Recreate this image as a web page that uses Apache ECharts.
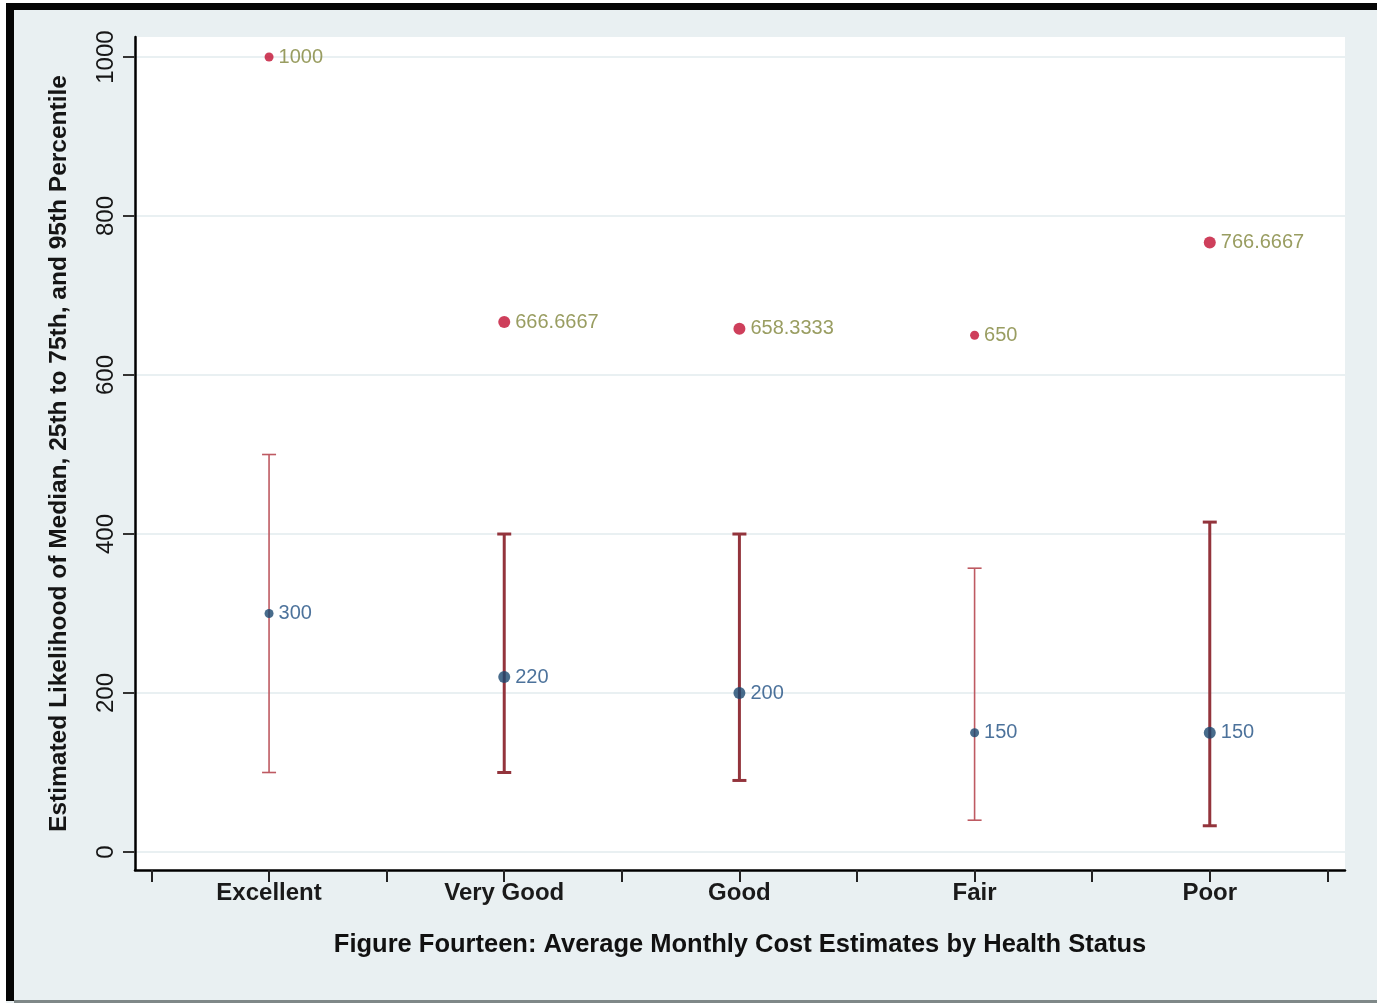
<!DOCTYPE html>
<html>
<head>
<meta charset="utf-8">
<title>Average Monthly Cost Estimates by Health Status</title>
<script src="https://cdn.jsdelivr.net/npm/echarts@6/dist/echarts.min.js"></script>
<style>
  html, body { margin: 0; padding: 0; background: #ffffff; }
  #chart { width: 1377px; height: 1003px; }
</style>
</head>
<body>
<div id="chart"></div>
<script>
// Health status groups along the horizontal axis
const categories = ['Excellent', 'Very Good', 'Good', 'Fair', 'Poor'];
// 25th and 75th percentile of the monthly cost estimate
const p25 = [100, 100, 90, 40, 33];
const p75 = [500, 400, 400, 357, 415];
// Median estimate
const medians = [300, 220, 200, 150, 150];
// 95th percentile estimate
const p95 = [1000, 666.6667, 658.3333, 650, 766.6667];
// Value axis tick labels
const yTicks = [0, 200, 400, 600, 800, 1000];

// Styling: which range bars are drawn heavy
const heavyBar = [false, true, true, false, true];

const FONT = '"Liberation Sans", Arial, Helvetica, sans-serif';
const NAVY = '#1a476f';
const MAROON = '#93343c';
const CRANBERRY = '#c20f32';

// x positions: groups sit at 1..n, ticks also between groups
const xPos = categories.map((c, i) => i + 1);
const xTicks = [];
categories.forEach((c, i) => { xTicks.push(i + 0.5, i + 1); });
xTicks.push(categories.length + 0.5);

const rangeData = categories.map((c, i) => [xPos[i], p25[i], p75[i]]);
const medianData = categories.map((c, i) => [xPos[i], medians[i]]);
const p95Data = categories.map((c, i) => [xPos[i], p95[i]]);

const chart = echarts.init(document.getElementById('chart'), null, { renderer: 'canvas' });

chart.setOption({
  animation: false,
  backgroundColor: '#e9f0f2',
  graphic: [
    { type: 'rect', silent: true, z: 100, shape: { x: 0, y: 0, width: 1377, height: 3 }, style: { fill: '#ffffff' } },
    { type: 'rect', silent: true, z: 100, shape: { x: 0, y: 0, width: 6, height: 1003 }, style: { fill: '#ffffff' } },
    { type: 'rect', silent: true, z: 100, shape: { x: 6, y: 3, width: 1371, height: 7 }, style: { fill: '#050505' } },
    { type: 'rect', silent: true, z: 100, shape: { x: 6, y: 3, width: 8, height: 998 }, style: { fill: '#050505' } },
    { type: 'rect', silent: true, z: 100, shape: { x: 14, y: 1000, width: 1363, height: 3 }, style: { fill: '#7f8888' } }
  ],
  grid: {
    left: 135, right: 32, top: 37, bottom: 133,
    show: true, backgroundColor: '#ffffff', borderWidth: 0
  },
  xAxis: {
    type: 'value',
    min: 0.43,
    max: 5.575,
    name: 'Figure Fourteen: Average Monthly Cost Estimates by Health Status',
    nameLocation: 'middle',
    nameGap: 62,
    nameTextStyle: { fontFamily: FONT, fontSize: 25.5, fontWeight: 'bold', color: '#111111' },
    axisLine: { show: true, onZero: false, lineStyle: { color: '#000000', width: 2.5 } },
    axisTick: { show: true, customValues: xTicks, length: 12, lineStyle: { color: '#222222', width: 2 } },
    axisLabel: {
      customValues: xPos,
      formatter: v => categories[Math.round(v) - 1] || '',
      margin: 11,
      fontFamily: FONT, fontSize: 24, fontWeight: 'bold', color: '#1a1a1a'
    },
    splitLine: { show: false }
  },
  yAxis: {
    type: 'value',
    min: -22.64,
    max: 1025.2,
    name: 'Estimated Likelihood of Median, 25th to 75th, and 95th Percentile',
    nameLocation: 'middle',
    nameRotate: 90,
    nameGap: 63,
    nameTextStyle: { fontFamily: FONT, fontSize: 24.5, fontWeight: 'bold', color: '#151515' },
    axisLine: { show: true, onZero: false, lineStyle: { color: '#000000', width: 2.5 } },
    axisTick: { show: true, customValues: yTicks, length: 12, lineStyle: { color: '#333333', width: 2 } },
    axisLabel: {
      customValues: yTicks,
      formatter: v => String(v),
      rotate: 90,
      margin: 17,
      fontFamily: FONT, fontSize: 24, color: '#161616'
    },
    splitLine: { show: true, lineStyle: { color: '#e2ebee', width: 1.5 } }
  },
  series: [
    {
      type: 'custom',
      name: '25th to 75th',
      data: rangeData,
      z: 2,
      renderItem: (params, api) => {
        const x = api.value(0);
        const lo = api.coord([x, api.value(1)]);
        const hi = api.coord([x, api.value(2)]);
        const heavy = heavyBar[params.dataIndex];
        const style = { stroke: heavy ? MAROON : '#be5a62', lineWidth: heavy ? 3 : 1.6, fill: null };
        const cw = 7;
        return {
          type: 'group',
          children: [
            { type: 'line', shape: { x1: lo[0], y1: lo[1], x2: hi[0], y2: hi[1] }, style },
            { type: 'line', shape: { x1: lo[0] - cw, y1: lo[1], x2: lo[0] + cw, y2: lo[1] }, style },
            { type: 'line', shape: { x1: hi[0] - cw, y1: hi[1], x2: hi[0] + cw, y2: hi[1] }, style }
          ]
        };
      }
    },
    {
      type: 'scatter',
      name: 'Median',
      data: medianData,
      z: 3,
      symbol: 'circle',
      symbolSize: (v, p) => heavyBar[p.dataIndex] ? 12 : 9,
      itemStyle: { color: NAVY },
      label: {
        show: true, position: 'right', distance: 5,
        formatter: p => String(p.value[1]),
        fontFamily: FONT, fontSize: 20, color: '#1f4f82'
      }
    },
    {
      type: 'scatter',
      name: '95th Percentile',
      data: p95Data,
      z: 3,
      symbol: 'circle',
      symbolSize: (v, p) => heavyBar[p.dataIndex] ? 12 : 9,
      itemStyle: { color: CRANBERRY },
      label: {
        show: true, position: 'right', distance: 5,
        formatter: p => String(p.value[1]),
        fontFamily: FONT, fontSize: 20, color: '#7f843a'
      }
    }
  ]
});
</script>
</body>
</html>
